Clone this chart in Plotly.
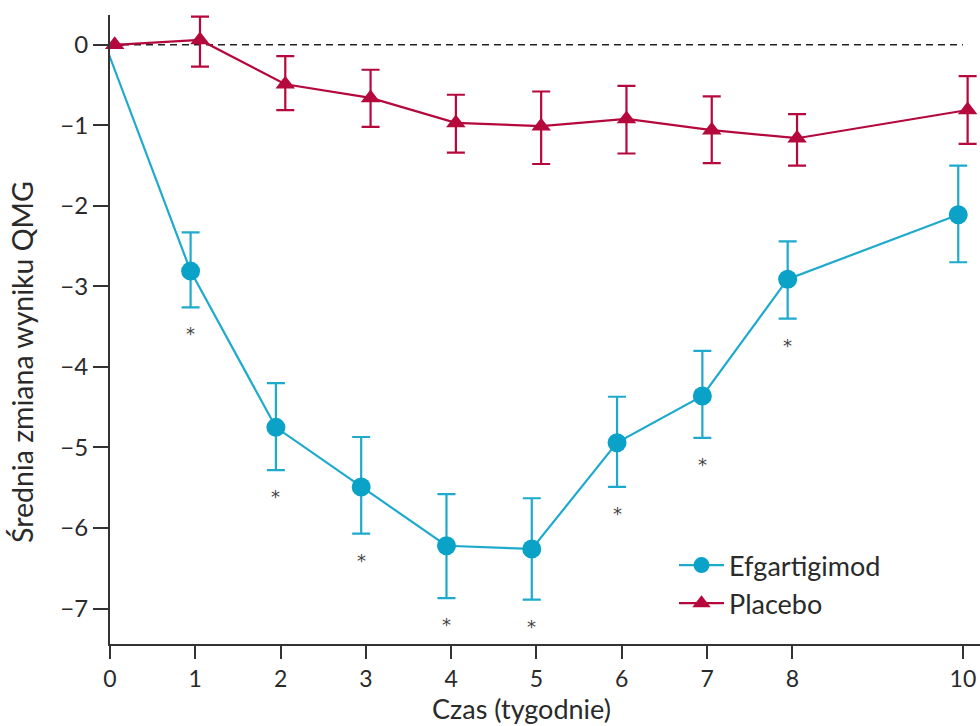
import plotly.graph_objects as go
import numpy as np

weeks = [0, 1, 2, 3, 4, 5, 6, 7, 8, 10]

efg_mean = [0.0, -2.81, -4.75, -5.49, -6.22, -6.26, -4.94, -4.36, -2.91, -2.11]
efg_upper = [0.0, -2.33, -4.20, -4.87, -5.58, -5.63, -4.37, -3.80, -2.44, -1.50]
efg_lower = [0.0, -3.26, -5.28, -6.07, -6.87, -6.89, -5.49, -4.88, -3.40, -2.70]

pla_mean = [0.0, 0.06, -0.49, -0.66, -0.97, -1.01, -0.92, -1.06, -1.16, -0.81]
pla_upper = [0.0, 0.35, -0.14, -0.31, -0.62, -0.58, -0.51, -0.64, -0.86, -0.39]
pla_lower = [0.0, -0.27, -0.81, -1.02, -1.34, -1.48, -1.35, -1.47, -1.50, -1.23]

signif_weeks = [1, 2, 3, 4, 5, 6, 7, 8]

x_tick_vals = [0, 1, 2, 3, 4, 5, 6, 7, 8, 10]
y_tick_vals = [0, -1, -2, -3, -4, -5, -6, -7]
y_tick_text = ["0", "\u22121", "\u22122", "\u22123", "\u22124", "\u22125", "\u22126", "\u22127"]

BLUE = "#0aa3c7"
BLUE_LINE = "#1eaacd"
RED = "#b5083c"
TXT = "#2a2a2a"
FONT = "Lato"

FIG_W, FIG_H = 980, 726
PL, PR, PT, PB = 110, 980, 15, 644
PW, PH = PR - PL, PB - PT

dodge = 0.055
w = np.array(weeks, dtype=float)

efg_m = np.array(efg_mean)
efg_up = np.array(efg_upper) - efg_m
efg_dn = efg_m - np.array(efg_lower)
pla_m = np.array(pla_mean)
pla_up = np.array(pla_upper) - pla_m
pla_dn = pla_m - np.array(pla_lower)

fig = go.Figure()

fig.add_shape(type="line", x0=0, x1=10, y0=0, y1=0, xref="x", yref="y",
              line=dict(color="#222222", width=1.6, dash="7px,5px"), layer="below")

fig.add_trace(go.Scatter(
    x=w - dodge, y=efg_m, name="Efgartigimod", mode="lines+markers",
    line=dict(color=BLUE_LINE, width=2.2),
    marker=dict(symbol="circle", size=19, color=BLUE),
    error_y=dict(type="data", symmetric=False, array=efg_up, arrayminus=efg_dn,
                 color=BLUE_LINE, thickness=2.2, width=9),
    cliponaxis=False, hoverinfo="skip"))

fig.add_trace(go.Scatter(
    x=w + dodge, y=pla_m, name="Placebo", mode="lines+markers",
    line=dict(color=RED, width=2.2),
    marker=dict(symbol="triangle-up", size=17, color=RED),
    error_y=dict(type="data", symmetric=False, array=pla_up, arrayminus=pla_dn,
                 color=RED, thickness=2.2, width=9),
    cliponaxis=False, hoverinfo="skip"))

for wk in signif_weeks:
    i = weeks.index(wk)
    fig.add_annotation(x=wk - dodge, y=efg_lower[i], xref="x", yref="y",
                       text="*", showarrow=False, yanchor="top", yshift=-14,
                       font=dict(family="DejaVu Sans", size=18, color="#444444"))

fig.add_annotation(text="Średnia zmiana wyniku QMG", xref="paper", yref="paper",
                   x=(22 - PL) / PW, xanchor="center", y=(PB - 362) / PH, yanchor="middle",
                   textangle=-90, showarrow=False,
                   font=dict(family=FONT, size=28.5, color=TXT))
fig.add_annotation(text="Czas (tygodnie)", xref="paper", yref="paper",
                   x=(521 - PL) / PW, xanchor="center", y=-(709 - PB) / PH, yanchor="middle",
                   showarrow=False, borderpad=0, font=dict(family=FONT, size=27, color=TXT))

fig.update_layout(
    width=FIG_W, height=FIG_H,
    margin=dict(l=PL, r=FIG_W - PR, t=PT, b=FIG_H - PB),
    plot_bgcolor="white", paper_bgcolor="white",
    font=dict(family=FONT, size=22, color=TXT),
    showlegend=True,
    legend=dict(x=(674 - PL) / PW, xanchor="left", y=(PB - 541) / PH, yanchor="top",
                bgcolor="rgba(0,0,0,0)", font=dict(family=FONT, size=27, color=TXT),
                itemwidth=45, tracegroupgap=0),
    xaxis=dict(range=[0, 10.2], tickvals=x_tick_vals, ticktext=[str(v) for v in x_tick_vals],
               showline=True, linecolor="#333333", linewidth=2,
               ticks="outside", ticklen=13, tickwidth=2, tickcolor="#333333",
               showgrid=False, zeroline=False, tickfont=dict(family=FONT, size=23, color=TXT)),
    yaxis=dict(range=[-7.44, 0.37], tickvals=y_tick_vals, ticktext=y_tick_text,
               showline=True, linecolor="#333333", linewidth=2,
               ticks="outside", ticklen=15, tickwidth=2, tickcolor="#333333",
               showgrid=False, zeroline=False, tickfont=dict(family=FONT, size=24, color=TXT)),
)

fig.write_html("out.html", config={"displayModeBar": False},
               post_script="document.body.style.margin='0';document.body.style.overflow='hidden';")
